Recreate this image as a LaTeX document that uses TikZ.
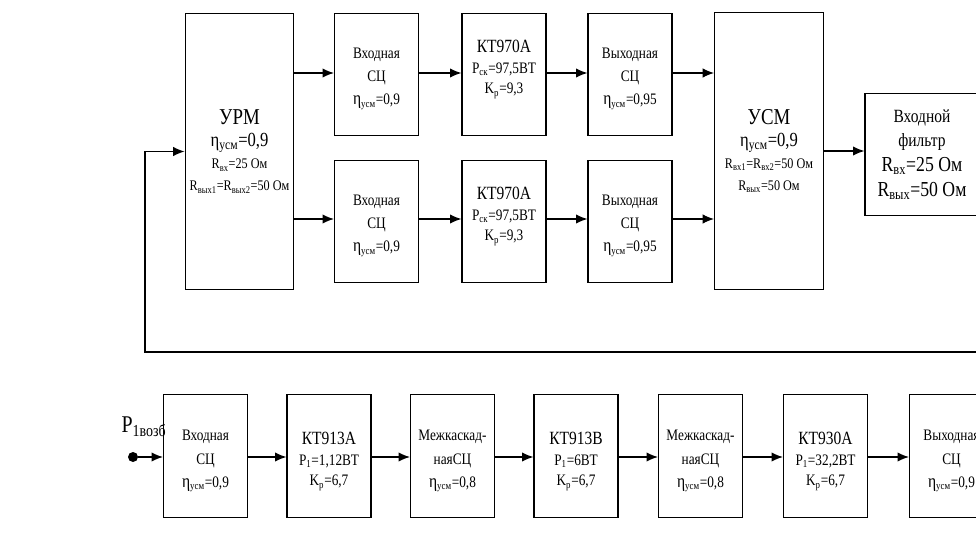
\documentclass[tikz,border=0pt]{standalone}
\usepackage{fontspec}
\setmainfont{Liberation Serif}[FakeStretch=0.83]
\usetikzlibrary{arrows.meta}
\newcommand{\szf}[2]{\fontsize{#1}{#2}\selectfont}
\newcommand{\etab}{{\szf{14}{16}η}}

\tikzset{
  blk/.style={draw, line width=0.9pt, inner sep=0pt, align=center},
  cell/.style={blk, minimum width=63pt, minimum height=92pt},
  lbl/.style={align=center, inner sep=0pt, font=\szf{12}{17.5}},
  big/.style={blk, minimum width=81.5pt, minimum height=207.5pt, font=\szf{11}{16.5}},
  arr/.style={-{Latex[length=8.5pt,width=7pt]}, line width=0.9pt},
}

\begin{document}
\begin{tikzpicture}[x=0.75pt, y=-0.75pt]
\useasboundingbox (0,0) rectangle (976,542);
\clip (0,0) rectangle (976,542);

% upper part
\node[big] (urm) at (239.5,151.5)
  {{\szf{17}{20}УРМ}\\{\szf{15}{18}η\textsubscript{усм}=0,9}\\R\textsubscript{вх}=25 Ом\\R\textsubscript{вых1}=R\textsubscript{вых2}=50 Ом};

\node[cell, label={[lbl, yshift=-3pt]center:{Входная\\СЦ\\\etab\textsubscript{усм}=0,9}}] (inA) at (376.5,74.5) {};
\node[cell, label={[lbl, yshift=4pt]center:{{\szf{14}{16}КТ970А}\\[-2pt]P\textsubscript{ск}=97,5ВТ\\[-2pt]K\textsubscript{р}=9,3}}] (trA) at (504,74.5) {};
\node[cell, label={[lbl, yshift=-3pt]center:{Выходная\\СЦ\\\etab\textsubscript{усм}=0,95}}] (outA) at (630,74.5) {};

\node[cell, label={[lbl, yshift=-3pt]center:{Входная\\СЦ\\\etab\textsubscript{усм}=0,9}}] (inB) at (376.5,221.5) {};
\node[cell, label={[lbl, yshift=4pt]center:{{\szf{14}{16}КТ970А}\\[-2pt]P\textsubscript{ск}=97,5ВТ\\[-2pt]K\textsubscript{р}=9,3}}] (trB) at (504,221.5) {};
\node[cell, label={[lbl, yshift=-3pt]center:{Выходная\\СЦ\\\etab\textsubscript{усм}=0,95}}] (outB) at (630,221.5) {};

\node[big] (usm) at (769,151)
  {{\szf{17}{20}УСМ}\\{\szf{15}{18}η\textsubscript{усм}=0,9}\\R\textsubscript{вх1}=R\textsubscript{вх2}=50 Ом\\R\textsubscript{вых}=50 Ом};

\node[blk, minimum width=85.5pt, minimum height=92pt, font=\szf{14}{18.5}] (filt) at (922,154.5)
  {Входной\\фильтр\\{\szf{16}{18.5}R\textsubscript{вх}=25 Ом}\\{\szf{16}{18.5}R\textsubscript{вых}=50 Ом}};

\draw[arr] (urm.east |- 0,73) -- (inA.west |- 0,73);
\draw[arr] (inA.east |- 0,73) -- (trA.west |- 0,73);
\draw[arr] (trA.east |- 0,73) -- (outA.west |- 0,73);
\draw[arr] (outA.east |- 0,73) -- (usm.west |- 0,73);

\draw[arr] (urm.east |- 0,219) -- (inB.west |- 0,219);
\draw[arr] (inB.east |- 0,219) -- (trB.west |- 0,219);
\draw[arr] (trB.east |- 0,219) -- (outB.west |- 0,219);
\draw[arr] (outB.east |- 0,219) -- (usm.west |- 0,219);

\draw[arr] (usm.east) -- (usm.east -| filt.west);

% feedback
\coordinate (fb) at (980,352);
\coordinate (fbc) at (145,151.5);
\draw[line width=0.9pt] (fb) -| (fbc);
\draw[arr] (fbc) -- (urm.west);

% lower chain
\node[cell, label={[lbl, yshift=-4pt]center:{Входная\\СЦ\\\etab\textsubscript{усм}=0,9}}] (b1) at (205.5,456) {};
\node[cell, label={[lbl, yshift=-4pt]center:{{\szf{14}{16}КТ913А}\\[-2pt]P\textsubscript{1}=1,12ВТ\\[-2pt]K\textsubscript{р}=6,7}}] (b2) at (329,456) {};
\node[cell, label={[lbl, yshift=-4pt]center:{Межкаскад-\\наяСЦ\\\etab\textsubscript{усм}=0,8}}] (b3) at (452.5,456) {};
\node[cell, label={[lbl, yshift=-4pt]center:{{\szf{14}{16}КТ913В}\\[-2pt]P\textsubscript{1}=6ВТ\\[-2pt]K\textsubscript{р}=6,7}}] (b4) at (576,456) {};
\node[cell, label={[lbl, yshift=-4pt]center:{Межкаскад-\\наяСЦ\\\etab\textsubscript{усм}=0,8}}] (b5) at (700.5,456) {};
\node[cell, label={[lbl, yshift=-4pt]center:{{\szf{14}{16}КТ930А}\\[-2pt]P\textsubscript{1}=32,2ВТ\\[-2pt]K\textsubscript{р}=6,7}}] (b6) at (825.5,456) {};
\node[cell, label={[lbl, yshift=-4pt]center:{Выходная\\СЦ\\\etab\textsubscript{усм}=0,9}}] (b7) at (951.5,456) {};

\node[circle, fill, inner sep=0pt, minimum size=7.5pt] (pin) at (133,457) {};
\node[font=\szf{18}{20}, inner sep=0pt] (plbl) at (144,427) {P\textsubscript{1возб}};

\draw[arr] (pin) -- (b1.west |- pin);
\draw[arr] (b1.east |- pin) -- (b2.west |- pin);
\draw[arr] (b2.east |- pin) -- (b3.west |- pin);
\draw[arr] (b3.east |- pin) -- (b4.west |- pin);
\draw[arr] (b4.east |- pin) -- (b5.west |- pin);
\draw[arr] (b5.east |- pin) -- (b6.west |- pin);
\draw[arr] (b6.east |- pin) -- (b7.west |- pin);

\end{tikzpicture}
\end{document}
